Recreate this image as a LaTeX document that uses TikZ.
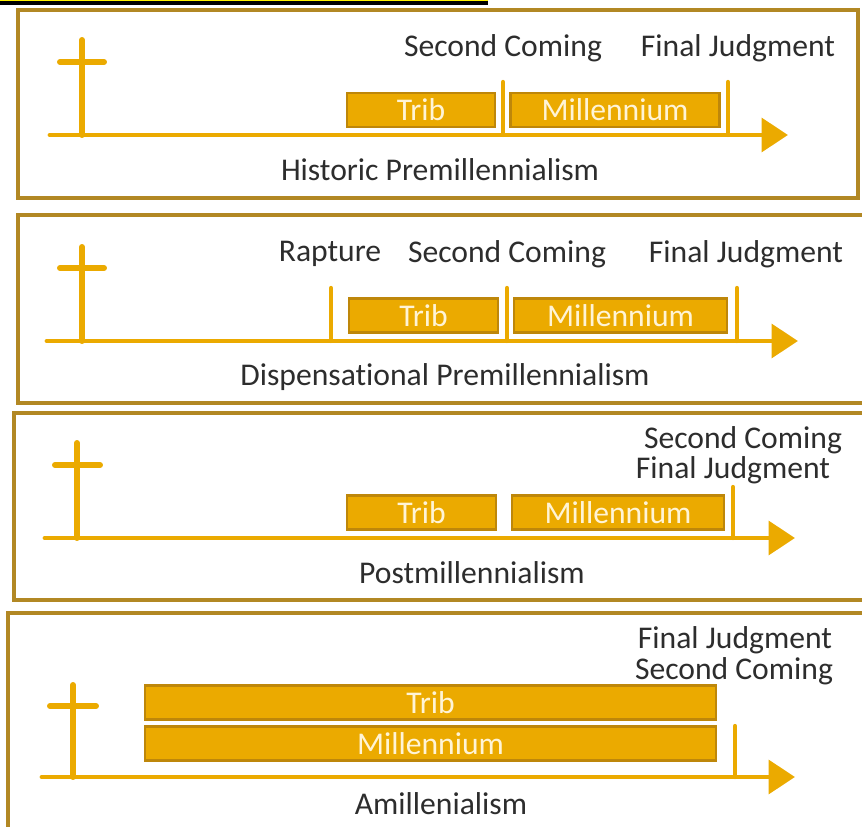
\documentclass[tikz,border=0pt]{standalone}
\usepackage{fontspec}
\setmainfont[Ligatures=NoCommon, RawFeature={-liga;-calt}]{Carlito}
\usepackage{tikz}
\usetikzlibrary{arrows.meta,positioning}
\definecolor{gold}{RGB}{235,170,0}
\definecolor{baredge}{RGB}{190,135,10}
\definecolor{framec}{RGB}{178,136,36}
\definecolor{textc}{RGB}{45,45,45}
\definecolor{bartext}{RGB}{255,244,214}

\begin{document}
\begin{tikzpicture}[x=0.02cm, y=-0.02cm,
  panel/.style={draw=framec, line width=2.6pt, fill=white},
  crossline/.style={draw=gold, line width=3.4pt, line cap=round},
  timeline/.style={draw=gold, line width=2.8pt, line cap=round, -{Triangle[length=15pt, width=19pt]}},
  tick/.style={draw=gold, line width=2.4pt, line cap=round},
  bar/.style={rectangle, draw=baredge, fill=gold, line width=1.3pt, minimum height=0.68cm, inner sep=0pt, text=bartext, font=\fontsize{18}{21}\selectfont},
  event/.style={text=textc, inner sep=0pt, font=\fontsize{18}{21}\selectfont},
  title/.style={text=textc, inner sep=0pt, font=\fontsize{18}{21}\selectfont}
]
\useasboundingbox (0,0) rectangle (862,827);
\fill[white] (0,0) rectangle (862,827);
\fill[black] (0,0) rectangle (488,5);
\draw[yellow, line width=0.6pt] (0,0.6) -- (488,0.6);

% historic premillennialism
\draw[panel] (18,10) rectangle (858,198);
\draw[crossline] (82,40) -- (82,135) (60,62) -- (104,62);
\coordinate (hstart) at (50,135);
\coordinate (hend) at (788,135);
\draw[timeline] (hstart) -- (hend);
\node[bar, minimum width=2.96cm] (htrib) at (421,110) {Trib};
\node[bar, minimum width=4.18cm] (hmill) at (615,110) {Millennium};
\draw[tick] (503,82) -- (503,135);
\draw[tick] (728,82) -- (728,135);
\node[event] (hsecond) at (503,48) {Second Coming};
\node[event] (hfinal) at (738,48) {Final Judgment};
\node[title] (htitle) at (440,170) {Historic Premillennialism};

% dispensational premillennialism
\draw[panel] (18,215) rectangle (866,403);
\draw[crossline] (82,247) -- (82,341) (60,268) -- (104,268);
\coordinate (dstart) at (47,341);
\coordinate (dend) at (798,341);
\draw[timeline] (dstart) -- (dend);
\node[bar, minimum width=2.98cm] (dtrib) at (423.5,315.5) {Trib};
\node[bar, minimum width=4.26cm] (dmill) at (620.5,315.5) {Millennium};
\draw[tick] (331,288) -- (331,341);
\draw[tick] (507,288) -- (507,341);
\draw[tick] (737,288) -- (737,341);
\node[event] (drapture) at (330,254) {Rapture};
\node[event] (dsecond) at (507,254) {Second Coming};
\node[event] (dfinal) at (746,254) {Final Judgment};
\node[title] (dtitle) at (445,377) {Dispensational Premillennialism};

% postmillennialism
\draw[panel] (14,413) rectangle (866,600);
\draw[crossline] (77,443) -- (77,538) (55,465) -- (100,465);
\coordinate (pstart) at (45,538);
\coordinate (pend) at (795,538);
\draw[timeline] (pstart) -- (pend);
\node[bar, minimum width=2.98cm] (ptrib) at (421.5,512.5) {Trib};
\node[bar, minimum width=4.24cm] (pmill) at (618,512.5) {Millennium};
\draw[tick] (733,487) -- (733,538);
\node[event] (psecond) at (743,440) {Second Coming};
\node[event] (pfinal) at (733,470) {Final Judgment};
\node[title] (ptitle) at (472,573) {Postmillennialism};

% amillennialism
\draw[panel] (8,613) rectangle (866,840);
\draw[crossline] (73,685) -- (73,777) (50,706) -- (96,706);
\coordinate (astart) at (42,777);
\coordinate (aend) at (795,777);
\draw[timeline] (astart) -- (aend);
\node[bar, minimum width=11.42cm] (atrib) at (430.5,702.5) {Trib};
\node[bar, minimum width=11.42cm] (amill) at (430.5,743.5) {Millennium};
\draw[tick] (735,726) -- (735,777);
\node[event] (afinal) at (735,640) {Final Judgment};
\node[event] (asecond) at (734,671) {Second Coming};
\node[title] (atitle) at (441,804) {Amillenialism};
\end{tikzpicture}
\end{document}
